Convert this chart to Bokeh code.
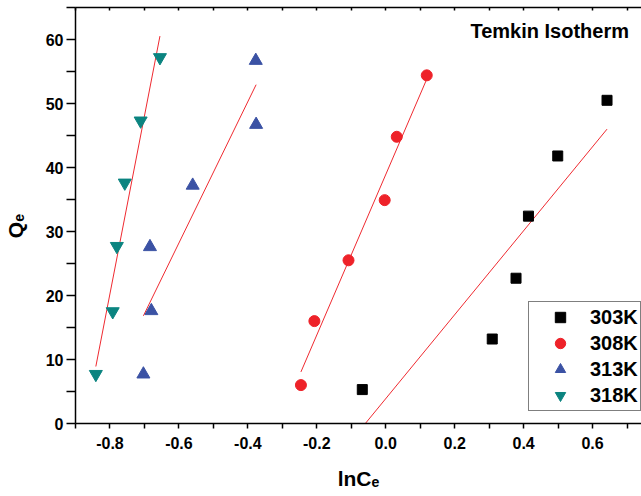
import numpy as np
from bokeh.plotting import figure
from bokeh.models import (Range1d, LinearAxis, FixedTicker, NumeralTickFormatter,
                          Legend, LegendItem, Label)
from bokeh.embed import file_html
from bokeh.resources import INLINE

# ---- data ----
series_names = ["303K", "308K", "313K", "318K"]
x303 = [-0.068, 0.309, 0.378, 0.414, 0.499, 0.642]
y303 = [5.3, 13.2, 22.7, 32.4, 41.8, 50.5]
x308 = [-0.246, -0.207, -0.108, -0.003, 0.032, 0.119]
y308 = [6.0, 16.0, 25.5, 34.9, 44.8, 54.4]
x313 = [-0.703, -0.680, -0.684, -0.560, -0.376, -0.377]
y313 = [7.7, 17.6, 27.6, 37.2, 46.7, 56.7]
x318 = [-0.841, -0.792, -0.780, -0.757, -0.711, -0.655]
y318 = [7.7, 17.5, 27.7, 37.6, 47.3, 57.2]

x_major = [-0.8, -0.6, -0.4, -0.2, 0.0, 0.2, 0.4, 0.6]
x_minor = [-0.9, -0.7, -0.5, -0.3, -0.1, 0.1, 0.3, 0.5, 0.7]
y_major = [0, 10, 20, 30, 40, 50, 60]
y_minor = [5, 15, 25, 35, 45, 55, 65]

title_text = "Temkin Isotherm"
x_label = "lnC\u2091"
y_label = "Q\u2091"

# ---- layout ----
X0, X1 = -0.9, 0.742
Y0, Y1 = 0, 65
LEFT, TOP, BOTTOM = 74, 7, 73
W, H = 641, 496
FONT = "Liberation Sans"
sx = (W - LEFT) / (X1 - X0)
sy = (H - TOP - BOTTOM) / (Y1 - Y0)


def px_x(px):
    return X0 + (px - LEFT) / sx


def px_y(py):
    return Y0 + (H - BOTTOM - py) / sy


p = figure(width=W, height=H, output_backend="svg", toolbar_location=None,
           x_range=Range1d(X0, X1), y_range=Range1d(Y0, Y1),
           min_border_left=LEFT, min_border_right=0, min_border_top=TOP,
           min_border_bottom=BOTTOM, x_axis_location=None, y_axis_location=None)
p.outline_line_color = None
p.xgrid.visible = False
p.ygrid.visible = False
p.background_fill_color = "white"
p.border_fill_color = "white"

# bottom axis
xa = LinearAxis(ticker=FixedTicker(ticks=x_major, minor_ticks=x_minor),
                formatter=NumeralTickFormatter(format="0.0"))
xa.major_tick_out = 5
xa.major_tick_in = 0
xa.minor_tick_out = 5
xa.minor_tick_in = 0
xa.major_label_standoff = 8
xa.major_label_text_font = FONT
xa.major_label_text_font_style = "bold"
xa.major_label_text_font_size = "16px"
xa.major_label_text_color = "black"
xa.axis_label = x_label
xa.axis_label_text_font = FONT
xa.axis_label_text_font_style = "bold"
xa.axis_label_text_font_size = "21px"
xa.axis_label_text_color = "black"
xa.axis_label_standoff = 15
xa.axis_line_width = 1.5
xa.major_tick_line_width = 1.5
xa.minor_tick_line_width = 1.5
p.add_layout(xa, "below")

# left axis
ya = LinearAxis(ticker=FixedTicker(ticks=y_major, minor_ticks=y_minor))
ya.major_tick_out = 9
ya.major_tick_in = 0
ya.minor_tick_out = 9
ya.minor_tick_in = 0
ya.major_label_standoff = 3
ya.major_label_text_font = FONT
ya.major_label_text_font_style = "bold"
ya.major_label_text_font_size = "16px"
ya.major_label_text_color = "black"
# two en-spaces after the label push the visible text a little below the axis centre
ya.axis_label = y_label + "\u2002\u2002"
ya.axis_label_text_font = FONT
ya.axis_label_text_font_style = "bold"
ya.axis_label_text_font_size = "21px"
ya.axis_label_text_color = "black"
ya.axis_label_standoff = 16
ya.axis_line_width = 1.5
ya.major_tick_line_width = 1.5
ya.minor_tick_line_width = 1.5
p.add_layout(ya, "left")

# top axis (tick marks only, drawn as minor ticks so no labels exist)
ta = LinearAxis(ticker=FixedTicker(ticks=[], minor_ticks=x_major + x_minor))
ta.major_tick_out = 0
ta.major_tick_in = 0
ta.minor_tick_out = 0
ta.minor_tick_in = 3
ta.major_label_standoff = 0
ta.axis_line_width = 1.5
ta.minor_tick_line_width = 1.5
p.add_layout(ta, "above")

# ---- fit lines ----
LINE_RED = "#ef2a30"
for xs, ys in [(x303, y303), (x308, y308), (x313, y313), (x318, y318)]:
    k, b = np.polyfit(xs, ys, 1)
    xl = np.array([min(xs), max(xs)])
    p.line(xl, k * xl + b, line_color=LINE_RED, line_width=1)

# ---- markers ----
r303 = p.scatter(x303, y303, marker="square", size=10, fill_color="black", line_color="black")
r308 = p.scatter(x308, y308, marker="circle", size=11, fill_color="#ee2229", line_color="#ee2229")
r313 = p.scatter(x313, y313, marker="triangle", size=13, fill_color="#3b52a4", line_color="#3b52a4")
r318 = p.scatter(x318, y318, marker="inverted_triangle", size=13, fill_color="#0b8480", line_color="#0b8480")

legend = Legend(items=[LegendItem(label=n, renderers=[r]) for n, r in
                       zip(series_names, [r303, r308, r313, r318])],
                location=(453, 12))
legend.padding = 2
legend.spacing = 0
legend.margin = 0
legend.glyph_width = 58
legend.glyph_height = 26
legend.label_height = 26
legend.label_standoff = 1
legend.label_text_font = FONT
legend.label_text_font_style = "bold"
legend.label_text_font_size = "20px"
legend.label_text_color = "black"
legend.border_line_color = "black"
legend.border_line_width = 1
legend.background_fill_color = "white"
legend.background_fill_alpha = 1
p.add_layout(legend)

# ---- title inside the frame ----
p.add_layout(Label(x=px_x(628.5), y=px_y(30.5), text=title_text, text_align="right",
                   text_baseline="alphabetic", text_font=FONT, text_font_style="bold",
                   text_font_size="20px", text_color="black"))

open("out.html", "w").write(file_html(p, INLINE))
